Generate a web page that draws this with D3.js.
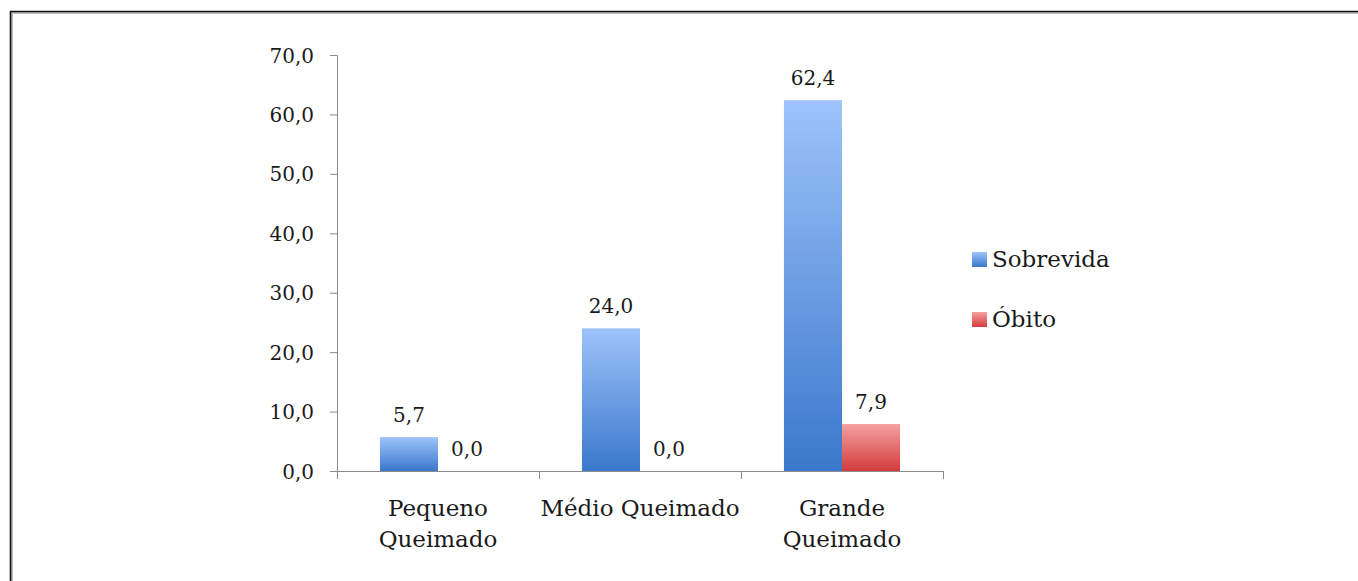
<!DOCTYPE html>
<html>
<head>
<meta charset="utf-8">
<script src="https://cdn.jsdelivr.net/npm/d3@7"></script>
<style>
  html, body { margin: 0; padding: 0; background: #fff; }
  svg text { font-family: "DejaVu Serif", serif; fill: #1a1a1a; }
</style>
</head>
<body>
<div id="chart"></div>
<script>
// Chart data
const categories = [['Pequeno', 'Queimado'], ['Médio Queimado'], ['Grande', 'Queimado']];
const seriesNames = ['Sobrevida', 'Óbito'];
const sobrevida = [5.7, 24.0, 62.4];
const obito = [0.0, 0.0, 7.9];
const yTicks = [0, 10, 20, 30, 40, 50, 60, 70];

const width = 1358;
const height = 581;
const fmt = v => v.toFixed(1).replace('.', ',');

const svg = d3.select('#chart').append('svg')
    .attr('width', width)
    .attr('height', height);

/* Gradients */
const defs = svg.append('defs');
const grads = [
  {id: 'g-blue', top: '#9dc3fa', bottom: '#3a78cb'},
  {id: 'g-red', top: '#f5a0a0', bottom: '#d23c3c'},
];
for (let g of grads) {
  let lg = defs.append('linearGradient')
      .attr('id', g.id)
      .attr('x1', 0).attr('y1', 0).attr('x2', 0).attr('y2', 1);
  lg.append('stop').attr('offset', '0%').attr('stop-color', g.top);
  lg.append('stop').attr('offset', '100%').attr('stop-color', g.bottom);
}
const fills = ['url(#g-blue)', 'url(#g-red)'];

/* Outer frame (only left and top edges fall inside the picture) */
svg.append('path')
    .attr('d', `M12,${height} L12,13 L${width},13`)
    .attr('fill', 'none').attr('stroke', '#bdbdbd').attr('stroke-width', 2);
svg.append('path')
    .attr('d', `M10.5,${height} L10.5,11.5 L${width},11.5`)
    .attr('fill', 'none').attr('stroke', '#111').attr('stroke-width', 1.6);

const plot = {left: 337, right: 943, top: 55, bottom: 471};
const numSize = '20px';
const textSize = '23px';

const x = d3.scaleBand()
    .domain(d3.range(categories.length))
    .range([plot.left, plot.right]);
const xInner = d3.scaleBand()
    .domain(d3.range(seriesNames.length))
    .range([0, x.bandwidth()])
    .paddingOuter(0.74)
    .paddingInner(0);
const y = d3.scaleLinear()
    .domain([0, 70])
    .range([plot.bottom, plot.top]);

/* Y axis */
const yAxis = svg.append('g')
    .attr('transform', `translate(${plot.left},0)`)
    .call(d3.axisLeft(y).tickValues(yTicks).tickFormat(fmt)
        .tickSize(7).tickPadding(16));
yAxis.select('.domain').attr('stroke', '#8a8a8a')
    .attr('d', `M-7,${plot.top + 0.5}H0.5V${plot.bottom + 0.5}`);
yAxis.selectAll('.tick line').attr('stroke', '#8a8a8a');
yAxis.selectAll('.tick text')
    .style('font-size', numSize)
    .attr('dy', '0.35em');

/* X axis */
const xAxisG = svg.append('g')
    .attr('transform', `translate(0,${plot.bottom})`);
xAxisG.append('line')
    .attr('x1', plot.left).attr('x2', plot.right + 1)
    .attr('y1', 0.5).attr('y2', 0.5)
    .attr('stroke', '#8a8a8a');
xAxisG.selectAll('line.tick')
    .data(d3.range(categories.length + 1))
    .join('line')
    .attr('class', 'tick')
    .attr('x1', d => d < categories.length ? x(d) + 0.5 : plot.right + 0.5)
    .attr('x2', d => d < categories.length ? x(d) + 0.5 : plot.right + 0.5)
    .attr('y1', 0).attr('y2', 8)
    .attr('stroke', '#8a8a8a');
const catLabels = xAxisG.selectAll('text.cat')
    .data(categories)
    .join('text')
    .attr('class', 'cat')
    .attr('text-anchor', 'middle')
    .style('font-size', textSize);
catLabels.each(function(lines, i) {
  d3.select(this).selectAll('tspan')
      .data(lines)
      .join('tspan')
      .attr('x', x(i) + x.bandwidth() / 2)
      .attr('y', (d, j) => 45 + j * 31)
      .text(d => d);
});

/* Bars */
const series = [sobrevida, obito];
const groups = svg.append('g').selectAll('g')
    .data(categories)
    .join('g')
    .attr('transform', (d, i) => `translate(${x(i)},0)`);

groups.each(function(cat, i) {
  const g = d3.select(this);
  series.forEach((vals, s) => {
    const v = vals[i];
    const bx = xInner(s);
    const bw = xInner.bandwidth();
    if (v > 0) {
      g.append('rect')
          .attr('x', bx)
          .attr('y', y(v))
          .attr('width', bw)
          .attr('height', y(0) - y(v))
          .attr('fill', fills[s]);
    }
    g.append('text')
        .attr('x', bx + bw / 2)
        .attr('y', y(v) - 15)
        .attr('text-anchor', 'middle')
        .style('font-size', numSize)
        .text(fmt(v));
  });
});

/* Legend */
const legend = svg.append('g')
    .attr('transform', 'translate(972,0)');
const legendBase = [267, 327];
seriesNames.forEach((name, s) => {
  legend.append('rect')
      .attr('x', 0)
      .attr('y', legendBase[s] - 15)
      .attr('width', 15)
      .attr('height', 15)
      .attr('fill', fills[s]);
  legend.append('text')
      .attr('x', 20)
      .attr('y', legendBase[s])
      .style('font-size', textSize)
      .text(name);
});
</script>
</body>
</html>
